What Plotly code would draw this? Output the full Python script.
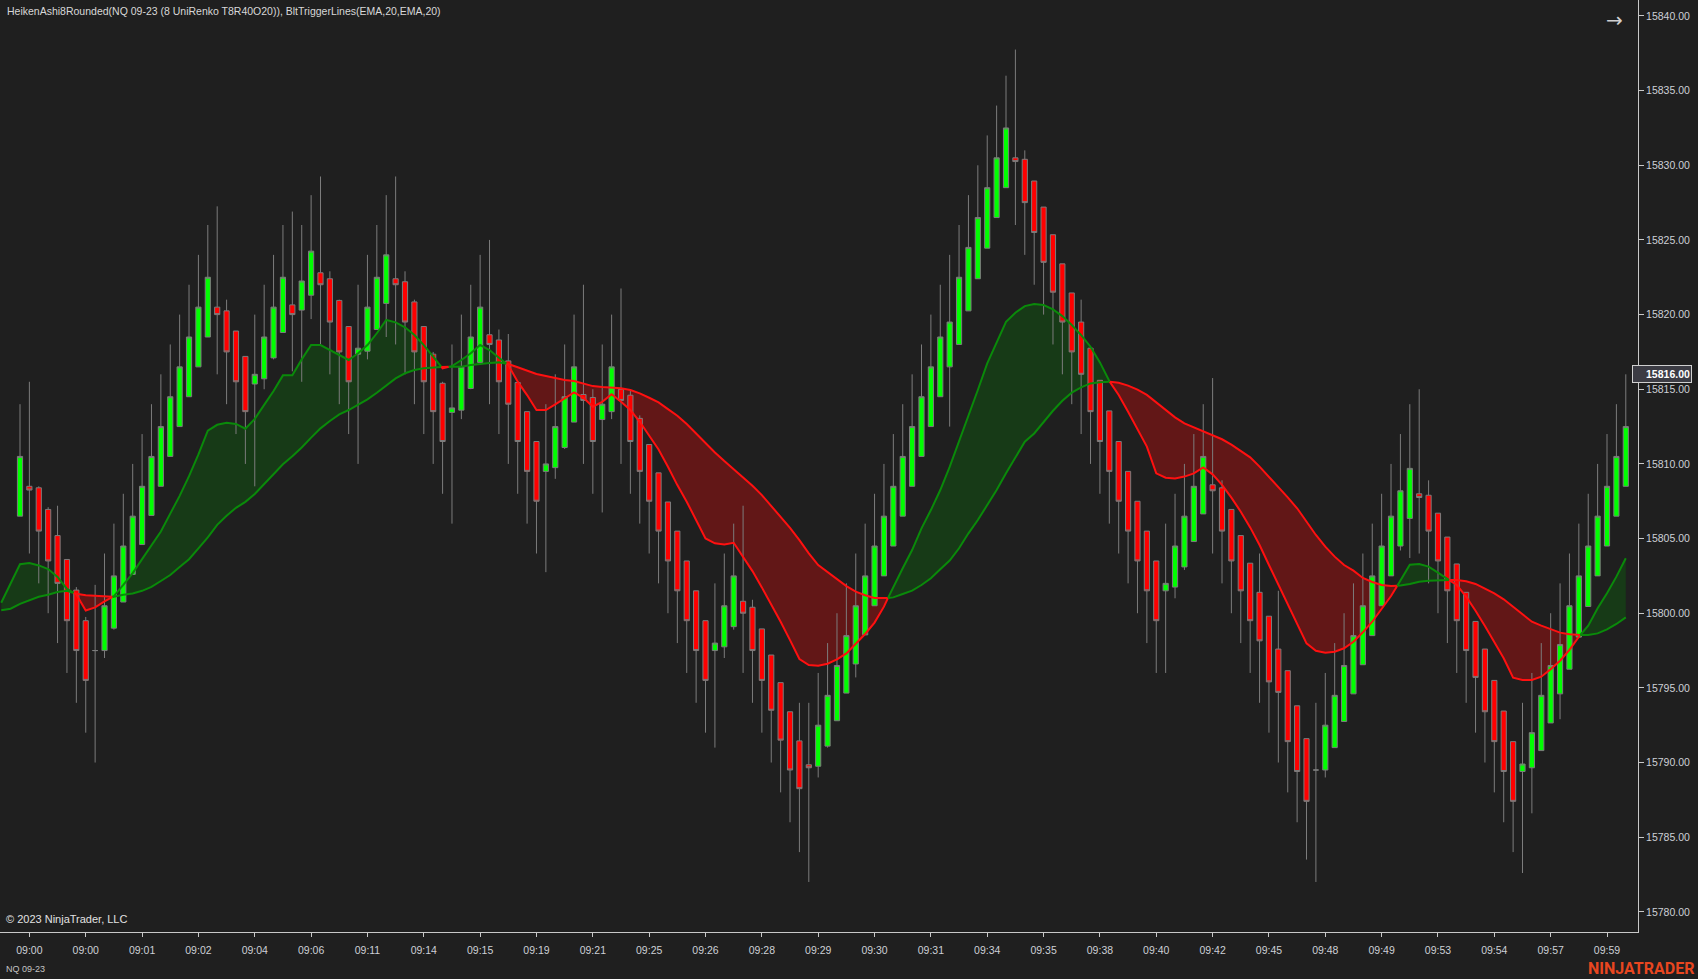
import plotly.graph_objects as go

# ---------------- data ----------------
bar_index = list(range(172))

ha_open = [
    15806.5, 15808.5, 15808.4, 15806.95, 15805.2, 15803.6, 15801.55, 15799.5, 15797.5, 15797.5,
    15799.0, 15800.75, 15802.6, 15804.6, 15806.55, 15808.5, 15810.5, 15812.5, 15814.5, 15816.5,
    15818.5, 15820.5, 15820.25, 15818.9, 15817.2, 15815.35, 15815.7, 15817.1, 15818.8, 15820.65,
    15820.3, 15821.3, 15822.8, 15822.4, 15820.95, 15819.2, 15817.35, 15817.55, 15819.0, 15820.75,
    15822.4, 15822.2, 15820.85, 15819.2, 15817.35, 15815.4, 15813.45, 15813.6, 15815.05, 15816.8,
    15818.65, 15818.3, 15816.9, 15815.45, 15813.5, 15811.5, 15809.5, 15809.75, 15811.1, 15812.8,
    15814.65, 15814.45, 15812.97, 15813.5, 15815.0, 15814.6, 15813.05, 15811.3, 15809.4, 15807.45,
    15805.5, 15803.5, 15801.5, 15799.5, 15797.5, 15797.75, 15799.1, 15800.8, 15800.4, 15798.95,
    15797.2, 15795.35, 15793.4, 15791.45, 15789.85, 15789.75, 15791.1, 15792.8, 15794.65, 15796.6,
    15798.55, 15800.5, 15802.5, 15804.5, 15806.5, 15808.5, 15810.5, 15812.5, 15814.5, 15816.5,
    15818.0, 15820.25, 15822.4, 15824.45, 15826.5, 15828.5, 15830.5, 15830.4, 15828.95, 15827.2,
    15825.35, 15823.4, 15821.45, 15819.5, 15817.75, 15815.6, 15813.55, 15811.5, 15809.5, 15807.5,
    15805.5, 15803.5, 15801.5, 15801.75, 15803.1, 15804.8, 15806.65, 15808.6, 15808.4, 15806.95,
    15805.2, 15803.35, 15801.4, 15799.8, 15797.6, 15796.15, 15793.8, 15791.6, 15789.5, 15789.5,
    15791.0, 15792.75, 15794.6, 15796.55, 15798.5, 15800.5, 15802.5, 15804.5, 15806.35, 15808.0,
    15807.9, 15806.7, 15805.1, 15803.3, 15801.4, 15799.45, 15797.6, 15795.5, 15793.45, 15791.4,
    15789.4, 15789.65, 15790.8, 15792.65, 15794.6, 15796.25, 15798.4, 15800.45, 15802.5, 15804.5,
    15806.5, 15808.5,
]

ha_high = [
    15814.0, 15815.5, 15808.5, 15807.1, 15807.2, 15803.6, 15801.75, 15799.75, 15801.9, 15804.0,
    15806.0, 15808.0, 15810.0, 15812.0, 15814.0, 15816.0, 15818.0, 15820.0, 15822.0, 15824.0,
    15826.0, 15827.25, 15821.0, 15818.9, 15817.2, 15820.0, 15822.0, 15824.0, 15826.0, 15826.9,
    15826.0, 15828.0, 15829.25, 15822.9, 15821.0, 15819.2, 15822.0, 15824.0, 15826.0, 15828.0,
    15829.25, 15822.9, 15821.0, 15819.2, 15817.5, 15815.5, 15818.0, 15820.0, 15822.0, 15824.0,
    15825.0, 15819.0, 15818.7, 15815.5, 15813.5, 15811.5, 15814.0, 15816.0, 15818.0, 15820.0,
    15822.0, 15815.0, 15818.0, 15820.0, 15821.75, 15815.0, 15813.25, 15811.3, 15809.4, 15807.45,
    15805.5, 15803.5, 15801.5, 15799.5, 15802.0, 15804.0, 15806.0, 15807.2, 15800.9, 15798.95,
    15797.2, 15795.35, 15793.4, 15794.0, 15794.0, 15796.0, 15798.0, 15800.0, 15802.0, 15804.0,
    15806.0, 15808.0, 15810.0, 15812.0, 15814.0, 15816.0, 15818.0, 15820.0, 15822.0, 15824.0,
    15826.0, 15828.0, 15830.0, 15832.0, 15834.0, 15836.0, 15837.75, 15831.0, 15828.95, 15827.2,
    15825.35, 15823.4, 15821.45, 15821.0, 15817.75, 15815.6, 15813.55, 15811.5, 15809.5, 15807.5,
    15805.5, 15803.5, 15806.0, 15808.0, 15810.0, 15812.0, 15814.0, 15815.75, 15808.9, 15806.95,
    15805.2, 15803.35, 15804.0, 15799.8, 15801.5, 15796.15, 15793.8, 15791.6, 15794.0, 15796.0,
    15798.0, 15800.0, 15802.0, 15804.0, 15806.0, 15808.0, 15810.0, 15812.0, 15814.0, 15815.0,
    15808.9, 15806.7, 15805.1, 15803.3, 15801.4, 15799.45, 15797.6, 15795.5, 15793.45, 15791.4,
    15794.0, 15796.0, 15798.0, 15800.0, 15802.0, 15804.0, 15806.0, 15808.0, 15810.0, 15812.0,
    15814.0, 15816.0,
]

ha_low = [
    15806.5, 15804.0, 15802.0, 15800.0, 15798.0, 15796.0, 15794.0, 15792.0, 15790.0, 15797.0,
    15798.9, 15800.75, 15802.6, 15804.6, 15806.55, 15808.5, 15810.5, 15812.5, 15814.5, 15816.5,
    15818.5, 15816.0, 15814.0, 15812.0, 15810.0, 15808.5, 15815.0, 15817.0, 15818.8, 15816.2,
    15815.5, 15819.7, 15818.0, 15816.0, 15814.0, 15812.0, 15810.0, 15817.0, 15819.0, 15818.5,
    15818.0, 15816.0, 15814.0, 15812.0, 15810.0, 15808.0, 15806.0, 15813.0, 15815.0, 15816.8,
    15814.0, 15812.0, 15810.0, 15808.0, 15806.0, 15804.0, 15802.75, 15809.0, 15811.0, 15812.8,
    15810.0, 15808.0, 15806.75, 15813.0, 15810.0, 15808.0, 15806.0, 15804.0, 15802.0, 15800.0,
    15798.0, 15796.0, 15794.0, 15792.0, 15791.0, 15797.0, 15798.9, 15796.0, 15794.0, 15792.0,
    15790.0, 15788.0, 15786.0, 15784.0, 15782.0, 15789.0, 15791.0, 15792.8, 15794.65, 15795.7,
    15798.55, 15800.5, 15802.5, 15804.5, 15806.5, 15808.5, 15810.5, 15812.5, 15814.5, 15812.5,
    15818.0, 15820.25, 15822.4, 15824.45, 15826.5, 15828.5, 15826.0, 15824.0, 15822.0, 15820.0,
    15818.0, 15816.0, 15814.0, 15812.0, 15810.0, 15808.0, 15806.0, 15804.0, 15802.0, 15800.0,
    15798.0, 15796.0, 15796.0, 15801.0, 15802.9, 15804.8, 15806.65, 15804.0, 15802.0, 15800.0,
    15798.0, 15796.0, 15794.0, 15792.0, 15790.0, 15788.0, 15786.0, 15783.5, 15782.0, 15789.0,
    15791.0, 15792.75, 15794.6, 15796.55, 15798.5, 15800.5, 15802.5, 15804.2, 15803.7, 15804.0,
    15802.0, 15800.0, 15798.0, 15796.0, 15794.0, 15792.0, 15790.0, 15788.0, 15786.0, 15784.0,
    15782.6, 15786.6, 15790.8, 15792.65, 15792.9, 15796.25, 15798.4, 15800.45, 15802.5, 15804.5,
    15806.5, 15808.5,
]

ha_close = [
    15810.5, 15808.25, 15805.5, 15803.5, 15802.0, 15799.5, 15797.5, 15795.5, 15797.5, 15800.5,
    15802.5, 15804.5, 15806.5, 15808.5, 15810.5, 15812.5, 15814.5, 15816.5, 15818.5, 15820.5,
    15822.5, 15820.0, 15817.5, 15815.5, 15813.5, 15816.0, 15818.5, 15820.5, 15822.5, 15820.0,
    15822.25, 15824.25, 15822.0, 15819.5, 15817.5, 15815.5, 15817.75, 15820.5, 15822.5, 15824.0,
    15822.0, 15819.5, 15817.5, 15815.5, 15813.5, 15811.5, 15813.75, 15816.5, 15818.5, 15820.5,
    15818.0, 15815.5, 15814.0, 15811.5, 15809.5, 15807.5, 15810.0, 15812.5, 15814.5, 15816.5,
    15814.25, 15811.5, 15814.0, 15816.5, 15814.25, 15811.5, 15809.5, 15807.5, 15805.5, 15803.5,
    15801.5, 15799.5, 15797.5, 15795.5, 15798.0, 15800.5, 15802.5, 15800.0, 15797.5, 15795.5,
    15793.5, 15791.5, 15789.5, 15788.25, 15789.65, 15792.5, 15794.5, 15796.5, 15798.5, 15800.5,
    15802.5, 15804.5, 15806.5, 15808.5, 15810.5, 15812.5, 15814.5, 15816.5, 15818.5, 15819.5,
    15822.5, 15824.5, 15826.5, 15828.5, 15830.5, 15832.5, 15830.25, 15827.5, 15825.5, 15823.5,
    15821.5, 15819.5, 15817.5, 15816.0, 15813.5, 15811.5, 15809.5, 15807.5, 15805.5, 15803.5,
    15801.5, 15799.5, 15802.0, 15804.5, 15806.5, 15808.5, 15810.5, 15808.2, 15805.5, 15803.5,
    15801.5, 15799.5, 15798.15, 15795.4, 15794.7, 15791.4, 15789.4, 15787.4, 15789.5, 15792.5,
    15794.5, 15796.5, 15798.5, 15800.5, 15802.5, 15804.5, 15806.5, 15808.2, 15809.7, 15807.75,
    15805.5, 15803.5, 15801.5, 15799.5, 15797.5, 15795.7, 15793.4, 15791.4, 15789.4, 15787.4,
    15789.9, 15792.0, 15794.5, 15796.5, 15797.9, 15800.5, 15802.5, 15804.5, 15806.5, 15808.5,
    15810.5, 15812.5,
]

# trigger lines (fast EMA line and its trigger), read per bar; first two are off-screen bars
line_index = list(range(-2, 172))

fast_line = [
    15800.7, 15802.0,
    15803.28, 15803.36, 15803.2, 15802.96, 15802.43, 15801.63, 15801.25, 15800.18, 15800.39, 15800.79,
    15801.15, 15801.9, 15802.69, 15803.62, 15804.55, 15805.47, 15806.67, 15807.86, 15809.18, 15810.64,
    15812.23, 15812.62, 15812.76, 15812.68, 15812.36, 15813.02, 15813.95, 15814.88, 15815.93, 15815.93,
    15817.0, 15817.96, 15817.96, 15817.63, 15817.25, 15816.96, 15817.41, 15817.96, 15818.75, 15819.64,
    15819.48, 15819.15, 15818.63, 15817.96, 15817.18, 15816.4, 15816.55, 15816.96, 15817.41, 15817.96,
    15817.63, 15817.11, 15816.62, 15815.51, 15814.61, 15813.61, 15813.61, 15813.99, 15814.39, 15814.79,
    15814.43, 15813.83, 15814.16, 15814.66, 15814.16, 15813.61, 15812.82, 15811.93, 15810.97, 15809.81,
    15808.58, 15807.47, 15806.24, 15805.01, 15804.68, 15804.61, 15804.72, 15803.78, 15802.82, 15801.73,
    15800.59, 15799.43, 15798.2, 15796.93, 15796.53, 15796.48, 15796.62, 15796.91, 15797.31, 15797.94,
    15798.61, 15799.37, 15800.44, 15801.78, 15803.01, 15804.23, 15805.68, 15806.91, 15808.25, 15809.8,
    15811.5, 15813.16, 15814.95, 15816.73, 15818.18, 15819.52, 15820.13, 15820.57, 15820.71, 15820.64,
    15820.35, 15819.9, 15819.3, 15818.63, 15817.85, 15816.8, 15815.55, 15814.62, 15813.5, 15812.38,
    15811.16, 15809.37, 15809.08, 15809.03, 15809.15, 15809.37, 15809.77, 15809.3, 15808.59, 15807.74,
    15806.8, 15805.75, 15804.57, 15803.23, 15801.89, 15800.55, 15799.32, 15797.98, 15797.49, 15797.36,
    15797.42, 15797.65, 15798.09, 15798.72, 15799.43, 15800.26, 15801.15, 15802.18, 15803.25, 15803.3,
    15803.12, 15802.72, 15802.3, 15801.89, 15801.11, 15800.17, 15799.14, 15798.09, 15796.98, 15795.68,
    15795.53, 15795.53, 15795.75, 15796.24, 15796.82, 15797.54, 15798.43, 15799.17, 15800.33, 15801.33,
    15802.45, 15803.68,
]

slow_line = [
    15800.2, 15800.3,
    15800.63, 15800.84, 15801.1, 15801.24, 15801.42, 15801.5, 15801.3, 15801.21, 15801.16, 15801.1,
    15801.1, 15801.24, 15801.32, 15801.5, 15801.76, 15802.16, 15802.56, 15803.09, 15803.62, 15804.34,
    15805.08, 15805.92, 15806.53, 15807.06, 15807.46, 15807.99, 15808.65, 15809.37, 15809.98, 15810.51,
    15811.1, 15811.76, 15812.38, 15812.87, 15813.32, 15813.61, 15813.95, 15814.32, 15814.77, 15815.28,
    15815.73, 15816.07, 15816.29, 15816.4, 15816.47, 15816.5, 15816.5, 15816.51, 15816.62, 15816.71,
    15816.76, 15816.8, 15816.69, 15816.47, 15816.24, 15816.02, 15815.89, 15815.73, 15815.62, 15815.55,
    15815.39, 15815.21, 15815.15, 15815.1, 15815.06, 15814.95, 15814.72, 15814.43, 15814.12, 15813.67,
    15813.23, 15812.67, 15812.04, 15811.37, 15810.77, 15810.19, 15809.65, 15809.1, 15808.54, 15807.91,
    15807.2, 15806.46, 15805.72, 15804.9, 15804.01, 15803.22, 15802.75, 15802.29, 15801.82, 15801.44,
    15801.2, 15801.02, 15801.0, 15801.06, 15801.29, 15801.51, 15801.89, 15802.34, 15802.94, 15803.53,
    15804.35, 15805.35, 15806.24, 15807.24, 15808.25, 15809.37, 15810.48, 15811.49, 15812.04, 15812.83,
    15813.56, 15814.23, 15814.77, 15815.13, 15815.39, 15815.47, 15815.5, 15815.44, 15815.24, 15814.97,
    15814.62, 15814.1, 15813.61, 15813.12, 15812.72, 15812.45, 15812.18, 15811.91, 15811.65, 15811.29,
    15810.89, 15810.44, 15809.82, 15809.15, 15808.48, 15807.76, 15807.03, 15806.13, 15805.24, 15804.46,
    15803.79, 15803.23, 15802.85, 15802.36, 15802.09, 15801.89, 15801.82, 15801.85, 15801.96, 15802.11,
    15802.18, 15802.22, 15802.22, 15802.22, 15802.14, 15801.96, 15801.64, 15801.33, 15800.93, 15800.44,
    15799.92, 15799.43, 15799.17, 15798.92, 15798.7, 15798.59, 15798.54, 15798.54, 15798.65, 15798.92,
    15799.28, 15799.72,
]

time_tick_index = [1, 7, 13, 19, 25, 31, 37, 43, 49, 55, 61, 67, 73, 79, 85,
                   91, 97, 103, 109, 115, 121, 127, 133, 139, 145, 151, 157, 163, 169]
time_tick_labels = ["09:00", "09:00", "09:01", "09:02", "09:04", "09:06", "09:11", "09:14",
                    "09:15", "09:19", "09:21", "09:25", "09:26", "09:28", "09:29", "09:30",
                    "09:31", "09:34", "09:35", "09:38", "09:40", "09:42", "09:45", "09:48",
                    "09:49", "09:53", "09:54", "09:57", "09:59"]
price_ticks = [15780, 15785, 15790, 15795, 15800, 15805, 15810, 15815,
               15820, 15825, 15830, 15835, 15840]
last_price = 15816.00

# ---------------- styling ----------------
BG = "#1f1f1f"
AXIS = "#c8c8c8"
TXT = "#cdd0d6"
UP_LINE = "#0a8a0a"
DN_LINE = "#ff1010"
UP_FILL = "#173a17"
DN_FILL = "#621717"
FONT = "Liberation Sans"

# split the two trigger lines into runs where fast>=slow (green) or fast<slow (red)
runs = []
d = [a - b for a, b in zip(fast_line, slow_line)]
cur = {"x": [line_index[0]], "a": [fast_line[0]], "b": [slow_line[0]], "up": d[0] >= 0}
for k in range(1, len(line_index)):
    up = d[k] >= 0
    if up != cur["up"]:
        t = d[k - 1] / (d[k - 1] - d[k])
        xc = line_index[k - 1] + t * (line_index[k] - line_index[k - 1])
        yc = fast_line[k - 1] + t * (fast_line[k] - fast_line[k - 1])
        cur["x"].append(xc); cur["a"].append(yc); cur["b"].append(yc)
        runs.append(cur)
        cur = {"x": [xc], "a": [yc], "b": [yc], "up": up}
    cur["x"].append(line_index[k]); cur["a"].append(fast_line[k]); cur["b"].append(slow_line[k])
runs.append(cur)

shapes = []
for r in runs:
    pts = list(zip(r["x"], r["a"])) + list(zip(r["x"][::-1], r["b"][::-1]))
    path = "M " + " L ".join(f"{x:.4f},{y:.4f}" for x, y in pts) + " Z"
    shapes.append(dict(type="path", path=path, xref="x", yref="y", layer="below",
                       fillcolor=UP_FILL if r["up"] else DN_FILL, line=dict(width=0)))

fig = go.Figure()

fig.add_trace(go.Candlestick(
    x=bar_index, open=ha_open, high=ha_high, low=ha_low, close=ha_close,
    increasing=dict(fillcolor="#00ff00", line=dict(color="#7c7c7c", width=1)),
    decreasing=dict(fillcolor="#ff0000", line=dict(color="#7c7c7c", width=1)),
    whiskerwidth=0, showlegend=False, hoverinfo="skip",
))

for r in runs:
    col = UP_LINE if r["up"] else DN_LINE
    for key in ("b", "a"):
        fig.add_trace(go.Scatter(x=r["x"], y=r[key], mode="lines",
                                 line=dict(color=col, width=2),
                                 showlegend=False, hoverinfo="skip"))

annotations = [
    dict(text="HeikenAshi8Rounded(NQ 09-23 (8 UniRenko T8R40O20)), BltTriggerLines(EMA,20,EMA,20)",
         xref="paper", yref="paper", x=0, y=1, xanchor="left", yanchor="middle",
         xshift=5, yshift=-11, showarrow=False, font=dict(family=FONT, size=10.5, color="#d8d8d8")),
    dict(text="→", xref="paper", yref="paper", x=1, y=1, xanchor="center", yanchor="middle",
         xshift=-24, yshift=-20, showarrow=False, font=dict(family="DejaVu Sans", size=20, color="#d0d0d0")),
    dict(text="© 2023 NinjaTrader, LLC", xref="paper", yref="paper", x=0, y=0,
         xanchor="left", yanchor="middle", xshift=4, yshift=13, showarrow=False,
         font=dict(family=FONT, size=11, color="#e2e2e2")),
    dict(text="NQ 09-23", xref="paper", yref="paper", x=0, y=0, xanchor="left", yanchor="middle",
         xshift=4, yshift=-37, showarrow=False, font=dict(family=FONT, size=9, color="#c4c4c4")),
    dict(text="<b>NINJATRADER</b>", xref="paper", yref="paper", x=1, y=0, xanchor="right",
         yanchor="middle", xshift=58, yshift=-36, showarrow=False,
         font=dict(family="Roboto", size=16, color="#e8461f")),
    dict(text=f"<b>{last_price:.2f}</b>", xref="paper", yref="y", x=1, y=last_price,
         xanchor="left", yanchor="middle", xshift=-6, showarrow=False, align="right",
         width=56, height=14, bgcolor="#3c3c44", bordercolor="#d0d0d0", borderwidth=1,
         borderpad=1, font=dict(family=FONT, size=10.5, color="#ffffff")),
]

fig.update_layout(
    width=1698, height=979,
    paper_bgcolor=BG, plot_bgcolor=BG,
    margin=dict(l=0, r=60, t=0, b=47),
    showlegend=False,
    boxgap=0.45, boxgroupgap=0,
    shapes=shapes,
    annotations=annotations,
    xaxis=dict(range=[-2.13, 172.3], tickmode="array", tickvals=time_tick_index,
               ticktext=time_tick_labels, ticks="outside", ticklen=4, tickcolor=AXIS,
               showline=True, linecolor=AXIS, linewidth=1, showgrid=False, zeroline=False,
               rangeslider=dict(visible=False), ticklabelstandoff=4,
               tickfont=dict(family=FONT, size=10.5, color=TXT)),
    yaxis=dict(range=[15778.65, 15841.07], side="right", tickmode="array",
               tickvals=price_ticks, tickformat=".2f", ticks="outside", ticklen=5,
               tickcolor=AXIS, showline=True, linecolor=AXIS, linewidth=1,
               showgrid=False, zeroline=False,
               tickfont=dict(family=FONT, size=10.5, color=TXT)),
)

fig.write_html(
    "out.html",
    config={"displayModeBar": False},
    post_script="document.body.style.margin='0px';document.body.style.background='#1f1f1f';",
)
